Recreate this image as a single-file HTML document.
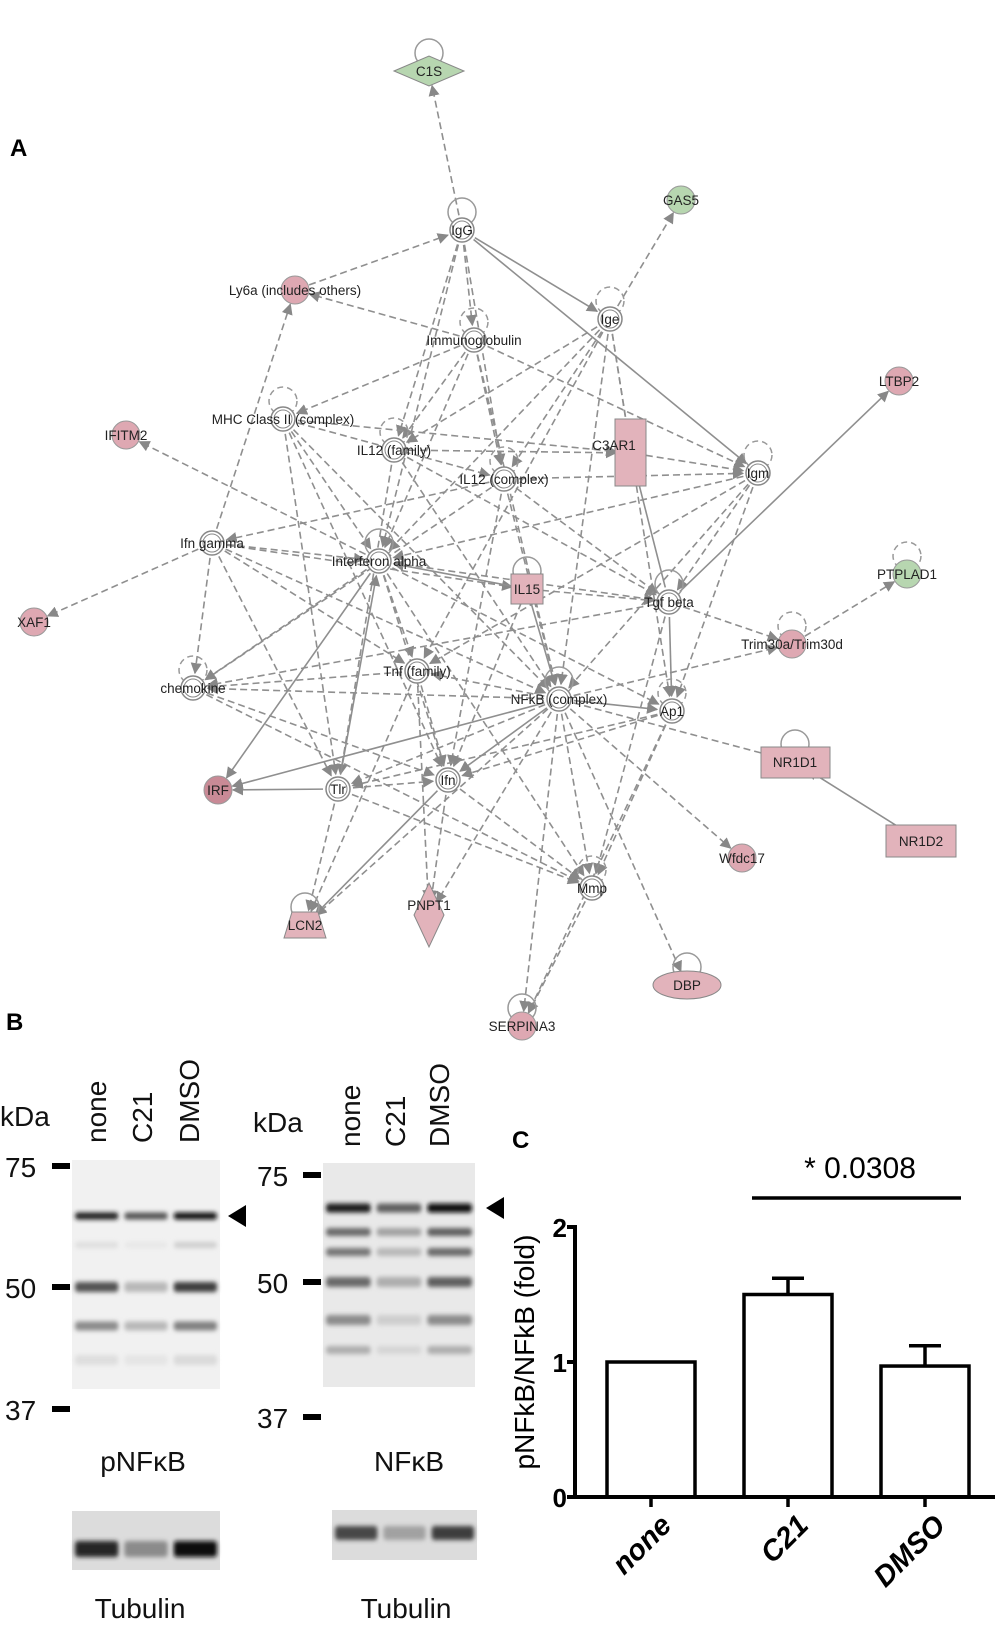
<!DOCTYPE html>
<html><head><meta charset="utf-8"><style>
body{margin:0;background:#fff;width:995px;height:1634px;overflow:hidden;font-family:"Liberation Sans",sans-serif}
svg{position:absolute;left:0;top:0}
</style></head><body>
<svg id="s" width="995" height="1634" xmlns="http://www.w3.org/2000/svg">
<defs><marker id="ar" viewBox="0 0 10 10" refX="9" refY="5" markerWidth="7" markerHeight="7" orient="auto"><path d="M0,0L10,5L0,10z" fill="#888"/></marker>
<filter id="blur" x="-10%" y="-100%" width="120%" height="300%"><feGaussianBlur stdDeviation="2.2 2.5"/></filter></defs>
<g id="edges"></g>
<g id="nodes"></g>
<text x="10" y="156" font-size="24" font-weight="bold">A</text>
<text x="6" y="1030" font-size="24" font-weight="bold">B</text>
<text x="512" y="1148" font-size="24" font-weight="bold">C</text>
<g id="blots"></g>
<g id="chart"></g>
</svg>
<script>
const NS="http://www.w3.org/2000/svg";
function mk(p,t,a,txt){const e=document.createElementNS(NS,t);for(const k in a)e.setAttribute(k,a[k]);if(txt!=null)e.textContent=txt;p.appendChild(e);return e;}
const N={C1S:[429,71],IgG:[462,230],GAS5:[681,200],Ly6a:[295,290],Ige:[610,319],Ig:[474,340],LTBP2:[899,381],MHC:[283,419],IFITM2:[126,435],IL12f:[394,450],C3AR1:[631,453],IL12c:[504,479],Igm:[758,473],PTPLAD1:[907,574],Ifng:[212,543],IFNa:[379,561],IL15:[527,589],Tgf:[669,602],XAF1:[34,622],Trim:[792,644],chem:[193,688],Tnf:[417,671],NFkB:[559,699],Ap1:[672,711],NR1D1:[795,762],IRF:[218,790],Tlr:[338,789],Ifn:[448,780],NR1D2:[921,841],Wfdc17:[742,858],Mmp:[592,888],LCN2:[305,925],PNPT1:[429,915],DBP:[687,985],SERP:[522,1026]};
const E=[["IgG","C1S",1],["Ige","GAS5",1],["Ifng","XAF1",1],["Ifng","Ly6a",1],["IFNa","IFITM2",1],["NFkB","NR1D1",1],["NR1D2","NR1D1",0],["Tgf","LTBP2",0],["Trim","PTPLAD1",1],
["Ly6a","IgG",1],["IgG","Ig",1],["IgG","IL12f",1],["IgG","IFNa",1],["IgG","Ige",0],["IgG","Igm",0],["IgG","IL12c",1],["Ig","Ly6a",1],["Ig","MHC",1],["Ig","IL12f",1],["Ig","IL12c",1],["Ig","IFNa",1],["Ig","Igm",1],["Ig","NFkB",1],
["Ige","IL12f",1],["Ige","IL12c",1],["Ige","IFNa",1],["Ige","Tnf",1],["Ige","NFkB",1],["Ige","Ap1",1],["Ige","C3AR1",1],
["MHC","IFNa",1],["MHC","IL12c",1],["MHC","NFkB",1],["MHC","Tlr",1],["MHC","Ifn",1],["MHC","C3AR1",1],["IL12f","NFkB",1],["IL12f","Tgf",1],["IL12f","C3AR1",1],["IL12f","Tlr",1],
["IL12c","NFkB",1],["IL12c","Igm",1],["IL12c","Tgf",1],["IL12c","chem",1],["IL12c","Ifn",1],["IL12c","Ifng",1],["C3AR1","Igm",1],["Tgf","C3AR1",0],
["Igm","IFNa",1],["Igm","Tnf",1],["Igm","NFkB",1],["Igm","Ap1",1],["Igm","Tgf",1],["Ifng","IFNa",1],["Ifng","chem",1],["Ifng","Tnf",1],["Ifng","Tlr",1],["Ifng","NFkB",1],["Ifng","IL15",1],
["IFNa","Ap1",1],["IFNa","Tnf",1],["IFNa","Ifn",1],["IFNa","Mmp",1],["IFNa","chem",1],["IFNa","Tgf",1],["IFNa","IRF",0],
["IL15","NFkB",0],["IL15","Tgf",1],["IL15","IFNa",0],["IL15","Ifn",1],["NFkB","chem",1],["NFkB","Tnf",1],["NFkB","Ifn",0],["NFkB","Tlr",1],["NFkB","Mmp",1],["NFkB","SERP",1],["NFkB","DBP",1],["NFkB","Wfdc17",1],["NFkB","Ap1",0],["NFkB","PNPT1",1],["NFkB","IRF",0],["NFkB","LCN2",1],["NFkB","Trim",1],
["Tgf","Ap1",0],["Tgf","chem",1],["Tgf","Mmp",1],["Tgf","Trim",1],["Tnf","chem",1],["Tnf","PNPT1",1],["Tnf","Ifn",1],["Tnf","LCN2",1],["Ap1","Ifn",1],["Ap1","Tlr",1],["Ap1","Mmp",1],
["chem","Ifn",1],["chem","Mmp",1],["Tlr","IRF",0],["Tlr","LCN2",1],["Tlr","Mmp",1],["Tlr","IFNa",0],["Tlr","Ifn",1],["Ifn","LCN2",0],["Ifn","Mmp",1],["Ifn","PNPT1",1],["Mmp","SERP",1],["Ap1","SERP",1]];
const eg=document.getElementById('edges');
E.forEach(([a,b,d])=>{const [x1,y1]=N[a],[x2,y2]=N[b];const dx=x2-x1,dy=y2-y1,L=Math.hypot(dx,dy),r=15;
const l=mk(eg,'line',{x1:x1+dx/L*r,y1:y1+dy/L*r,x2:x2-dx/L*r,y2:y2-dy/L*r,stroke:'#8f8f8f','stroke-width':1.6,'stroke-dasharray':d?'7,4':'none','marker-end':'url(#ar)'});

});
const ng=document.getElementById('nodes');
function loop(x,y,dash){mk(ng,'circle',{cx:x,cy:y-18,r:14,fill:'none',stroke:'#999','stroke-width':1.5,'stroke-dasharray':dash?'6,4':'none'});}
function lab(x,y,t,nm){const e=mk(ng,'text',{x:x,y:y+5,'font-size':13.5,'text-anchor':'middle',fill:'#222'},t);}
function ring(k,t,nm,loopd){const [x,y]=N[k];if(loopd!=null)loop(x,y,loopd);mk(ng,'circle',{cx:x,cy:y,r:12,fill:'#fff',stroke:'#888','stroke-width':1.5});mk(ng,'circle',{cx:x,cy:y,r:9,fill:'#fff',stroke:'#888','stroke-width':1});lab(x,y,t,nm);}
function dot(k,t,nm,c,dx){const [x,y]=N[k];mk(ng,'circle',{cx:x,cy:y,r:14,fill:c,stroke:'#999'});lab(x+(dx||0),y,t,nm);}
loop(429,71,0);mk(ng,'path',{d:'M394,71L429,56L464,71L429,86Z',fill:'#b7d6b0',stroke:'#888'});lab(429,71,'C1S','node-c1s');
ring('IgG','IgG','node-igg',0);dot('GAS5','GAS5','node-gas5','#b7d6b0');dot('Ly6a','Ly6a (includes others)','node-ly6a','#dea8b2');
ring('Ige','Ige','node-ige',1);ring('Ig','Immunoglobulin','node-immunoglobulin',1);dot('LTBP2','LTBP2','node-ltbp2','#dea8b2');
ring('MHC','MHC Class II (complex)','node-mhc',1);dot('IFITM2','IFITM2','node-ifitm2','#dea8b2');ring('IL12f','IL12 (family)','node-il12-family',1);
mk(ng,'rect',{x:615,y:419,width:31,height:67,fill:'#e2b3bb',stroke:'#888'});lab(614,445,'C3AR1','node-c3ar1');
ring('IL12c','IL12 (complex)','node-il12-complex',1);ring('Igm','Igm','node-igm',1);loop(907,574,1);dot('PTPLAD1','PTPLAD1','node-ptplad1','#b7d6b0');
ring('Ifng','Ifn gamma','node-ifn-gamma');ring('IFNa','Interferon alpha','node-interferon-alpha',0);
loop(527,589,0);mk(ng,'rect',{x:511,y:574,width:32,height:30,fill:'#e2b3bb',stroke:'#888'});lab(527,589,'IL15','node-il15');
ring('Tgf','Tgf beta','node-tgf-beta',0);dot('XAF1','XAF1','node-xaf1','#dea8b2');loop(792,644,1);dot('Trim','Trim30a/Trim30d','node-trim30','#dea8b2');
ring('chem','chemokine','node-chemokine',1);ring('Tnf','Tnf (family)','node-tnf');ring('NFkB','NFkB (complex)','node-nfkb',0);ring('Ap1','Ap1','node-ap1',1);
loop(795,762,0);mk(ng,'rect',{x:761,y:747,width:69,height:31,fill:'#e2b3bb',stroke:'#888'});lab(795,762,'NR1D1','node-nr1d1');
dot('IRF','IRF','node-irf','#c98a96');ring('Tlr','Tlr','node-tlr');ring('Ifn','Ifn','node-ifn');
mk(ng,'rect',{x:886,y:825,width:70,height:32,fill:'#e2b3bb',stroke:'#888'});lab(921,841,'NR1D2','node-nr1d2');
dot('Wfdc17','Wfdc17','node-wfdc17','#dea8b2');ring('Mmp','Mmp','node-mmp',1);
loop(305,925,0);mk(ng,'path',{d:'M292,912L318,912L326,938L284,938Z',fill:'#e2b3bb',stroke:'#888'});lab(305,925,'LCN2','node-lcn2');
mk(ng,'path',{d:'M429,883L444,915L429,947L414,915Z',fill:'#e2b3bb',stroke:'#888'});lab(429,905,'PNPT1','node-pnpt1');
loop(687,985,0);mk(ng,'ellipse',{cx:687,cy:985,rx:34,ry:14,fill:'#e2b3bb',stroke:'#888'});lab(687,985,'DBP','node-dbp');
loop(522,1026,0);dot('SERP','SERPINA3','node-serpina3','#dea8b2');

// blots
const bg=document.getElementById('blots');
function T(x,y,t,fs,nm,extra){const e=mk(bg,'text',Object.assign({x:x,y:y,'font-size':fs,fill:'#111'},extra||{}),t);return e;}
function blot(x0,x1,y0,y1,bands,nm,bgc){const g=mk(bg,'g',{});
mk(g,'rect',{x:x0,y:y0,width:x1-x0,height:y1-y0,fill:bgc||'#f1f1f1'});const lw=(x1-x0)/3;const bgr=mk(g,'g',{filter:'url(#blur)'});
bands.forEach(([y,h,ints])=>ints.forEach((v,i)=>{const c=Math.round(240-v*225);mk(bgr,'rect',{x:x0+i*lw+3,y:y-h/2,width:lw-6,height:h,rx:3,fill:'rgb('+c+','+c+','+c+')'});}));}
T(0,1126,'kDa',28,'kda-label-1');
[['none',106],['C21',152],['DMSO',199]].forEach(([t,x])=>T(x,1143,t,28,'lane-label-1-'+t,{transform:'rotate(-90 '+x+' 1143)'}));
blot(72,220,1160,1389,[[1216,7,[0.95,0.7,1]],[1287,10,[0.7,0.25,0.8]],[1326,9,[0.45,0.25,0.5]],[1245,6,[0.08,0.04,0.15]],[1360,10,[0.08,0.05,0.1]]],'blot-pnfkb');
[['75',1166],['50',1287],['37',1409]].forEach(([t,y])=>{T(5,y+11,t,28,'mw-'+t+'-1');mk(bg,'rect',{x:52,y:y-3,width:18,height:6,fill:'#000'});});
mk(bg,'path',{d:'M228,1216L246,1205L246,1227Z',fill:'#000'});
T(143,1471,'pNFκB',28,'pnfkb-label',{'text-anchor':'middle'});
blot(72,220,1511,1570,[[1549,16,[0.9,0.45,1]]],'blot-tubulin-1','#dcdcdc');
T(140,1618,'Tubulin',28,'tubulin-label-1',{'text-anchor':'middle'});
T(253,1132,'kDa',28,'kda-label-2');
[['none',360],['C21',405],['DMSO',449]].forEach(([t,x])=>T(x,1147,t,28,'lane-label-2-'+t,{transform:'rotate(-90 '+x+' 1147)'}));
blot(323,475,1163,1387,[[1208,9,[0.95,0.65,1]],[1232,8,[0.6,0.35,0.65]],[1252,8,[0.55,0.25,0.6]],[1282,10,[0.6,0.3,0.65]],[1320,10,[0.45,0.15,0.45]],[1350,8,[0.3,0.12,0.3]]],'blot-nfkb','#e9e9e9');
[['75',1175],['50',1282],['37',1417]].forEach(([t,y])=>{T(257,y+11,t,28,'mw-'+t+'-2');mk(bg,'rect',{x:303,y:y-3,width:18,height:6,fill:'#000'});});
mk(bg,'path',{d:'M486,1208L504,1197L504,1219Z',fill:'#000'});
T(409,1471,'NFκB',28,'nfkb-label',{'text-anchor':'middle'});
blot(332,477,1510,1560,[[1533,14,[0.75,0.35,0.8]]],'blot-tubulin-2','#dcdcdc');
T(406,1618,'Tubulin',28,'tubulin-label-2',{'text-anchor':'middle'});
</script>
<script>
// bar chart data
const categories=["none","C21","DMSO"];
const means=[1.0,1.5,0.97];
const errs=[0,0.12,0.15];
const yTicks=[0,1,2];
const sigText="* 0.0308";
const cg=document.getElementById('chart');
const X0=575,Y0=1497,Y2=1227,xEnd=995;
const yS=v=>Y0-(v/2)*(Y0-Y2);
const bandW=137,firstC=651;
const xC=i=>firstC+i*bandW;
function C(t,a,txt){const e=document.createElementNS("http://www.w3.org/2000/svg",t);for(const k in a)e.setAttribute(k,a[k]);if(txt!=null)e.textContent=txt;cg.appendChild(e);return e;}
categories.forEach((c,i)=>{const x=xC(i),w=88;
const b=C('rect',{x:x-w/2,y:yS(means[i]),width:w,height:Y0-yS(means[i]),fill:'#fff',stroke:'#000','stroke-width':3.5});


if(errs[i]>0){const e1=C('line',{x1:x,x2:x,y1:yS(means[i]),y2:yS(means[i]+errs[i]),stroke:'#000','stroke-width':3.5});


C('line',{x1:x-16,x2:x+16,y1:yS(means[i]+errs[i]),y2:yS(means[i]+errs[i]),stroke:'#000','stroke-width':3.5});}
C('line',{x1:x,x2:x,y1:Y0,y2:Y0+10,stroke:'#000','stroke-width':3.5});
const t=C('text',{x:x+22,y:Y0+30,'font-size':29,'font-weight':'bold','font-style':'italic','text-anchor':'end',transform:'rotate(-45 '+(x+22)+' '+(Y0+30)+')'},c);

});
const ya=C('line',{x1:X0,x2:X0,y1:Y2-2,y2:Y0+2,stroke:'#000','stroke-width':4});


const xa=C('line',{x1:X0-2,x2:xEnd,y1:Y0,y2:Y0,stroke:'#000','stroke-width':4});


yTicks.forEach(v=>{C('line',{x1:X0-8,x2:X0,y1:yS(v),y2:yS(v),stroke:'#000','stroke-width':4});
const t=C('text',{x:X0-8,y:yS(v)+10,'font-size':26,'font-weight':'bold','text-anchor':'end'},String(v));

});
const yt=C('text',{x:534,y:1352,'font-size':28,'text-anchor':'middle',transform:'rotate(-90 534 1352)'},'pNFkB/NFkB (fold)');


const sl=C('line',{x1:xC(1)-36,x2:xC(2)+36,y1:1198,y2:1198,stroke:'#000','stroke-width':3.5});


const st=C('text',{x:860,y:1178,'font-size':30,'text-anchor':'middle'},sigText);


</script>
</body></html>
